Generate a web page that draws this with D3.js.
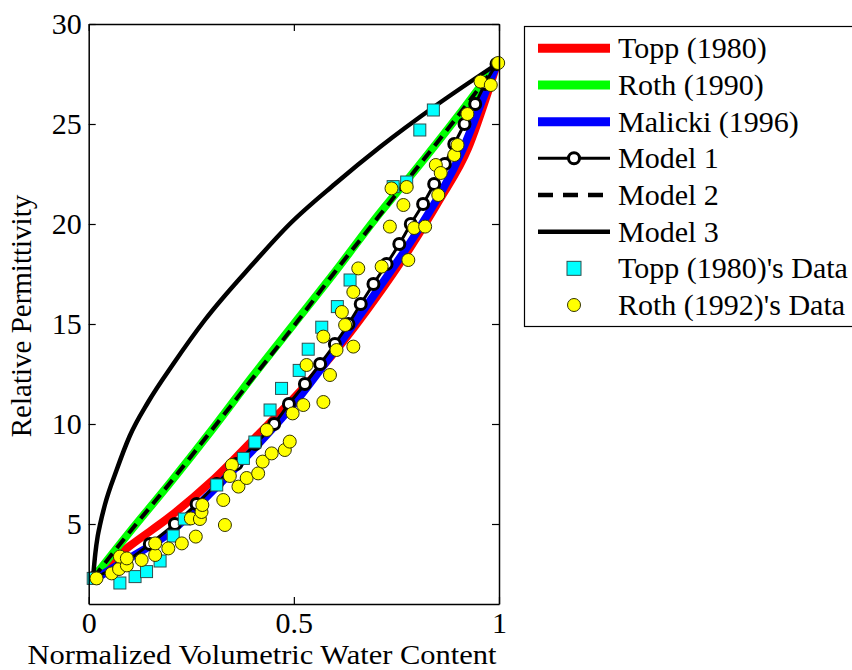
<!DOCTYPE html>
<html>
<head>
<meta charset="utf-8">
<script src="https://cdn.jsdelivr.net/npm/d3@7"></script>
<style>
  body { margin: 0; background: #fff; }
  svg text { font-family: 'Liberation Serif', 'Tinos', 'Times New Roman', 'DejaVu Serif', serif; font-size: 30px; fill: #000; }
</style>
</head>
<body>
<div id="chart"></div>
<script>
// curves (x = normalized water content, y = permittivity)
var toppX = [0.011, 0.1, 0.2, 0.3, 0.4, 0.5, 0.6, 0.7, 0.78, 0.855, 0.925, 0.978, 0.995];
var toppY = [2.4, 3.9, 5.4, 7.15, 9.2, 11.3, 13.6, 16.3, 18.7, 21.2, 23.8, 26.9, 28.0];

var rothX = [0.011, 0.1, 0.2, 0.3, 0.4, 0.5, 0.6, 0.7, 0.8, 0.9, 0.995];
var rothY = [2.3, 4.6, 7.1, 9.7, 12.4, 15.0, 17.6, 20.3, 22.8, 25.4, 28.0];

var malickiX = [0.011, 0.1, 0.2, 0.288, 0.4, 0.5, 0.6, 0.714, 0.803, 0.911, 0.971, 0.995];
var malickiY = [2.2, 3.3, 4.6, 6.37, 8.7, 11.0, 13.7, 17.0, 19.7, 23.7, 26.8, 28.0];

var model1X = [0.011, 0.082, 0.149, 0.21, 0.263, 0.312, 0.36, 0.406, 0.452, 0.488, 0.527, 0.564, 0.6, 0.633,
               0.663, 0.694, 0.726, 0.757, 0.785, 0.815, 0.842, 0.868, 0.891, 0.916, 0.942, 0.966, 0.994];
var model1Y = [2.3, 3, 4, 5, 6, 7, 8, 9, 10, 11, 12, 13, 14, 15, 16, 17, 18, 19, 20, 21, 22, 23, 24, 25, 26, 27, 28];

var model2X = [0.011, 0.1, 0.2, 0.3, 0.4, 0.5, 0.6, 0.7, 0.8, 0.9, 0.995];
var model2Y = [2.3, 4.6, 7.1, 9.7, 12.3, 14.9, 17.6, 20.2, 22.8, 25.4, 28.0];

var model3X = [0.011, 0.016, 0.022, 0.028, 0.04, 0.068, 0.1, 0.145, 0.206, 0.283, 0.4, 0.49, 0.6, 0.71, 0.848, 0.995];
var model3Y = [2.4, 3.5, 4.4, 5.0, 6.0, 7.7, 9.4, 11.1, 13.0, 15.2, 18.0, 20.0, 22.0, 23.85, 25.95, 28.0];

// measured data points
var toppDataX = [0.011, 0.076, 0.113, 0.141, 0.174, 0.206, 0.233, 0.312, 0.377, 0.405, 0.442, 0.470,
                 0.513, 0.535, 0.568, 0.606, 0.637, 0.742, 0.775, 0.807, 0.840];
var toppDataY = [2.28, 2.05, 2.37, 2.62, 3.15, 4.4, 5.25, 6.95, 8.28, 9.1, 10.7, 11.78,
                 12.68, 13.74, 14.84, 15.87, 17.2, 21.87, 22.1, 24.7, 25.7];

var rothDataX = [0.019, 0.056, 0.074, 0.093, 0.076, 0.093, 0.129, 0.162, 0.162, 0.194, 0.227, 0.261,
                 0.249, 0.271, 0.275, 0.277, 0.332, 0.328, 0.349, 0.344, 0.365, 0.385, 0.413, 0.424,
                 0.446, 0.478, 0.49, 0.434, 0.497, 0.523, 0.572, 0.588, 0.531, 0.604, 0.645, 0.572,
                 0.625, 0.617, 0.645, 0.657, 0.714, 0.779, 0.734, 0.793, 0.82, 0.767, 0.738, 0.775,
                 0.852, 0.846, 0.858, 0.891, 0.899, 0.923, 0.955, 0.98, 0.998];
var rothDataY = [2.28, 2.53, 2.75, 2.93, 3.37, 3.28, 3.2, 3.45, 4.03, 3.78, 4.03, 4.37,
                 5.28, 5.25, 5.6, 5.95, 4.95, 6.2, 7.95, 7.4, 6.87, 7.3, 7.53, 8.12,
                 8.53, 8.7, 9.12, 9.7, 10.53, 10.95, 11.1, 12.45, 12.95, 13.7, 13.87, 14.37,
                 14.95, 15.6, 16.6, 17.78, 17.87, 18.2, 19.87, 19.8, 19.87, 20.95, 21.78, 21.85,
                 21.45, 22.95, 22.55, 23.45, 23.95, 25.5, 27.12, 26.95, 28.05];

var legendNames = ["Topp (1980)", "Roth (1990)", "Malicki (1996)", "Model 1", "Model 2", "Model 3",
                   "Topp (1980)'s Data", "Roth (1992)'s Data"];

var xTicks = [0, 0.5, 1];
var yTicks = [5, 10, 15, 20, 25, 30];

var svgWidth = 852;
var svgHeight = 670;
var plot = { left: 88.7, right: 499, top: 24, bottom: 604 };
var serif = "'Liberation Serif', 'Tinos', 'Times New Roman', 'DejaVu Serif', serif";

var svg = d3.select("#chart")
    .append("svg")
    .attr("width", svgWidth)
    .attr("height", svgHeight)
    .attr("font-family", serif);

var xScale = d3.scaleLinear().domain([0, 1]).range([plot.left, plot.right]);
var yScale = d3.scaleLinear().domain([1, 30]).range([plot.bottom, plot.top]);

svg.append("defs").append("clipPath").attr("id", "clip")
    .append("rect")
    .attr("x", plot.left).attr("y", plot.top)
    .attr("width", plot.right - plot.left).attr("height", plot.bottom - plot.top);

function zipXY(xs, ys) {
    return xs.map(function(v, i) { return [v, ys[i]]; });
}

var line = d3.line()
    .x(d => xScale(d[0]))
    .y(d => yScale(d[1]))
    .curve(d3.curveMonotoneX);

var lines = svg.append("g").attr("clip-path", "url(#clip)");

var series = [
    { data: zipXY(toppX, toppY), color: "#ff0000", width: 8, dash: null },
    { data: zipXY(rothX, rothY), color: "#00ff00", width: 8, dash: null },
    { data: zipXY(malickiX, malickiY), color: "#0000ff", width: 8, dash: null },
    { data: zipXY(model1X, model1Y), color: "#000", width: 3, dash: null },
    { data: zipXY(model2X, model2Y), color: "#000", width: 4, dash: "12,7" },
    { data: zipXY(model3X, model3Y), color: "#000", width: 4.5, dash: null }
];

series.forEach(function(s, i) {
    lines.append("path")
        .datum(s.data)
        .attr("fill", "none")
        .attr("stroke", s.color)
        .attr("stroke-width", s.width)
        .attr("stroke-dasharray", s.dash)
        .attr("d", line);

    // model 1 markers right on top of its own line
    if (i == 3) {
        lines.append("g")
            .selectAll("circle")
            .data(s.data)
            .enter()
            .append("circle")
            .attr("cx", d => xScale(d[0]))
            .attr("cy", d => yScale(d[1]))
            .attr("r", 5.5)
            .attr("fill", "#fff")
            .attr("stroke", "#000")
            .attr("stroke-width", 3);
    }
});

var sq = 12;
svg.append("g")
    .selectAll("rect")
    .data(zipXY(toppDataX, toppDataY))
    .enter()
    .append("rect")
    .attr("x", d => xScale(d[0]) - sq / 2)
    .attr("y", d => yScale(d[1]) - sq / 2)
    .attr("width", sq)
    .attr("height", sq)
    .attr("fill", "#00ffff")
    .attr("stroke", "#2f4f4f")
    .attr("stroke-width", 1);

svg.append("g")
    .selectAll("circle")
    .data(zipXY(rothDataX, rothDataY))
    .enter()
    .append("circle")
    .attr("cx", d => xScale(d[0]))
    .attr("cy", d => yScale(d[1]))
    .attr("r", 6.5)
    .attr("fill", "#ffff00")
    .attr("stroke", "#333300")
    .attr("stroke-width", 1);

// axes, ticks inside like matlab
var tick = 7;
var fmt = d => String(d);

svg.append("g")
    .attr("transform", `translate(0, ${plot.bottom})`)
    .call(d3.axisBottom(xScale).tickValues(xTicks).tickSize(-tick).tickSizeOuter(0).tickPadding(8).tickFormat(fmt));

svg.append("g")
    .attr("transform", `translate(${plot.left}, 0)`)
    .call(d3.axisLeft(yScale).tickValues(yTicks).tickSize(-tick).tickSizeOuter(0).tickPadding(7).tickFormat(fmt));

svg.append("g")
    .attr("transform", `translate(0, ${plot.top})`)
    .call(d3.axisTop(xScale).tickValues(xTicks).tickSize(-tick).tickSizeOuter(0).tickFormat(""));

svg.append("g")
    .attr("transform", `translate(${plot.right}, 0)`)
    .call(d3.axisRight(yScale).tickValues(yTicks).tickSize(-tick).tickSizeOuter(0).tickFormat(""));

svg.selectAll(".domain").attr("stroke", "#000").attr("stroke-width", 1.5);
svg.selectAll(".tick line").attr("stroke", "#000").attr("stroke-width", 1.2);
svg.selectAll("g").filter(function() { return this.hasAttribute("font-family"); })
    .attr("font-family", serif)
    .attr("font-size", 30);
svg.selectAll(".tick text").attr("fill", "#000");

// the picture's text is a bit wider than tall, so stretch the label to its measured width
svg.append("text")
    .attr("x", 262)
    .attr("y", 664)
    .attr("text-anchor", "middle")
    .attr("textLength", 469)
    .attr("lengthAdjust", "spacingAndGlyphs")
    .style("font-size", "27px")
    .text("Normalized Volumetric Water Content");

svg.append("text")
    .attr("transform", "translate(31, 316) rotate(-90)")
    .attr("text-anchor", "middle")
    .style("font-size", "29px")
    .text("Relative Permittivity");

// legend
var legend = svg.append("g");
legend.append("rect")
    .attr("x", 524.5)
    .attr("y", 26.5)
    .attr("width", 340)
    .attr("height", 300)
    .attr("fill", "#fff")
    .attr("stroke", "#000")
    .attr("stroke-width", 1.2);

var rowY = d3.scaleLinear().domain([0, 7]).range([48.3, 305]);
var lx0 = 538, lx1 = 610, lxm = 574;

legendNames.forEach(function(name, i) {
    var yy = rowY(i);
    var g = legend.append("g");
    if (i < 6) {
        var s = series[i];
        g.append("line")
            .attr("x1", lx0).attr("x2", lx1)
            .attr("y1", yy).attr("y2", yy)
            .attr("stroke", s.color)
            .attr("stroke-width", i < 3 ? 9 : (i == 3 ? 3 : 4.5))
            .attr("stroke-dasharray", i == 4 ? "15,10" : null);
        if (i == 3) {
            g.append("circle").attr("cx", lxm).attr("cy", yy).attr("r", 5.5)
                .attr("fill", "#fff").attr("stroke", "#000").attr("stroke-width", 3);
        }
    } else if (i == 6) {
        g.append("rect").attr("x", lxm - 7).attr("y", yy - 7).attr("width", 14).attr("height", 14)
            .attr("fill", "#00ffff").attr("stroke", "#2f4f4f").attr("stroke-width", 1);
    } else {
        g.append("circle").attr("cx", lxm).attr("cy", yy).attr("r", 6.5)
            .attr("fill", "#ffff00").attr("stroke", "#333300").attr("stroke-width", 1);
    }
    g.append("text")
        .attr("x", 618)
        .attr("y", yy + 10)
        .text(name);
});
</script>
</body>
</html>
